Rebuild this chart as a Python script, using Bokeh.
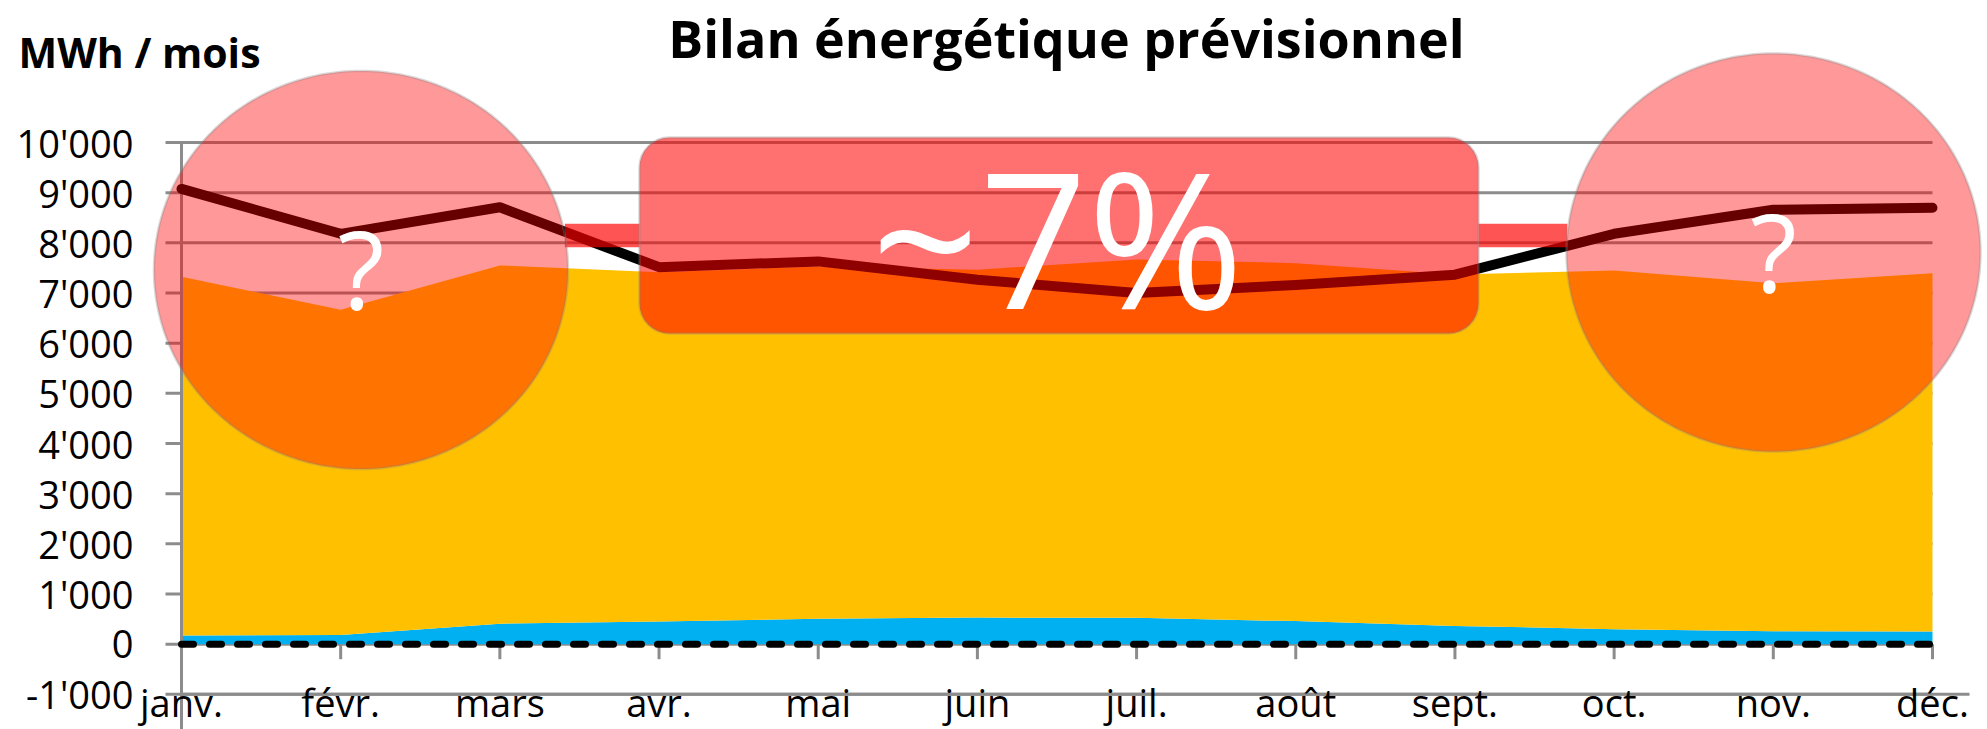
import numpy as np
from bokeh.plotting import figure
from bokeh.models import Range1d, Label, PolyAnnotation, BoxAnnotation
from bokeh.core.properties import value
from bokeh.embed import file_html
from bokeh.resources import INLINE

# ---------------- data ----------------
months = ["janv.", "févr.", "mars", "avr.", "mai", "juin",
          "juil.", "août", "sept.", "oct.", "nov.", "déc."]
serie_bleue = [175, 185, 410, 450, 505, 530, 525, 460, 365, 300, 260, 255]
serie_jaune = [7150, 6480, 7140, 6965, 7025, 6935, 7145, 7135, 7005, 7150, 6935, 7140]
consommation = [9075, 8180, 8710, 7515, 7630, 7265, 7000, 7160, 7365, 8180, 8660, 8700]
solde_zero = [0, 0, 0, 0, 0, 0, 0, 0, 0, 0, 0, 0]
niveau_rouge = 8145
y_ticks = [-1000, 0, 1000, 2000, 3000, 4000, 5000, 6000, 7000, 8000, 9000, 10000]
y_tick_labels = ["-1'000", "0", "1'000", "2'000", "3'000", "4'000", "5'000",
                 "6'000", "7'000", "8'000", "9'000", "10'000"]
titre = "Bilan énergétique prévisionnel"
unite = "MWh / mois"
texte_boite = "~7%"
texte_cercle = "?"

# ---------------- geometry / style ----------------
W, H = 1987, 729
FONT = "Open Sans"
GRAY = "#8C8C8C"
X0_PX, DX_PX = 181.0, 159.18      # page x of first category, px per category
Y0_PX, PX_U = 643.7, 0.05017      # page y of value 0, px per data unit


def xd(px):
    return (px - X0_PX) / DX_PX


def yd(py):
    return (Y0_PX - py) / PX_U


def lx(px):
    return px / DX_PX


def ly(py):
    return py / PX_U


x = list(range(len(months)))
stack_top = [b + j for b, j in zip(serie_bleue, serie_jaune)]

p = figure(width=W, height=H, output_backend="svg", toolbar_location=None,
           x_range=Range1d(xd(0), xd(W)), y_range=Range1d(yd(H), yd(0)),
           x_axis_location=None, y_axis_location=None, title=None,
           min_border=0, min_border_left=0, min_border_right=0,
           min_border_top=0, min_border_bottom=0)
p.outline_line_color = None
p.background_fill_color = "white"
p.grid.visible = False

n_t = len(y_ticks)
# horizontal grid lines (with their outside tick part)
p.segment(x0=[xd(165)] * n_t, x1=[x[-1]] * n_t, y0=y_ticks, y1=y_ticks,
          line_color=GRAY, line_width=3)
# category axis line at the bottom tick value
p.segment(x0=[x[0]], x1=[xd(1969)], y0=[y_ticks[0]], y1=[y_ticks[0]],
          line_color=GRAY, line_width=3)

# areas
p.varea(x=x, y1=solde_zero, y2=serie_bleue, fill_color="#00B0F0")
p.varea(x=x, y1=serie_bleue, y2=stack_top, fill_color="#FFC000")

# value axis line
p.segment(x0=[x[0]], x1=[x[0]], y0=[y_ticks[-1]], y1=[yd(H)],
          line_color=GRAY, line_width=3)
# value tick labels
p.text(x=[x[0] - lx(48)] * n_t, y=y_ticks, text=y_tick_labels,
       text_align="right", text_baseline="middle",
       text_font=value(FONT), text_font_size="38px", text_color="black")

# consumption line
p.line(x, consommation, line_color="black", line_width=10,
       line_cap="round", line_join="round")

# ticks on zero line
p.segment(x0=x, x1=x, y0=solde_zero, y1=[z - ly(15) for z in solde_zero],
          line_color=GRAY, line_width=3)

# dashed zero line
p.line(x, solde_zero, line_color="black", line_width=7, line_dash="12 16",
       line_cap="round")

# month labels
p.text(x=x, y=[yd(701)] * len(x), text=months, text_align="center",
       text_baseline="middle", text_font=value(FONT), text_font_size="38px",
       text_color="black")

# ---------------- overlays ----------------
rx = lx(207)
ry = ly(199)
circles = [(xd(360.5), yd(269.5)), (xd(1773), yd(252))]
box_l, box_r = xd(639), xd(1478)
box_t, box_b = yd(137), yd(333)


def circle_edge(c, yv, side):
    cx, cy = c
    d = (yv - cy) / ry
    return cx + side * rx * np.sqrt(max(0.0, 1 - d * d))


# red band between the shapes
band_x0 = [circle_edge(circles[0], niveau_rouge, +1), box_r]
band_x1 = [box_l, circle_edge(circles[1], niveau_rouge, -1)]
p.segment(x0=band_x0, x1=band_x1, y0=[niveau_rouge] * 2, y1=[niveau_rouge] * 2,
          line_color="#FF0000", line_alpha=0.67, line_width=23.5, line_cap="butt")

box = BoxAnnotation(left=box_l, right=box_r, top=box_t, bottom=box_b,
                    fill_color="#FF0000", fill_alpha=0.56,
                    line_color="#808080", line_width=2.5, border_radius=30)
p.add_layout(box)

t = np.linspace(0, 2 * np.pi, 241)
q_pos = [268, 251]
for (cx, cy), qy in zip(circles, q_pos):
    poly = PolyAnnotation(xs=list(cx + rx * np.cos(t)), ys=list(cy + ry * np.sin(t)),
                          xs_units="data", ys_units="data",
                          fill_color="#FF0000", fill_alpha=0.4,
                          line_color="#808080", line_width=2.5)
    p.add_layout(poly)
    p.add_layout(Label(x=cx, y=yd(qy), text=texte_cercle,
                       text_align="center", text_baseline="middle",
                       text_font=FONT, text_font_size="108px", text_color="white"))

p.add_layout(Label(x=xd(1057), y=yd(235), text=texte_boite,
                   text_align="center", text_baseline="middle",
                   text_font=FONT, text_font_size="189px", text_color="white"))

# titles
p.add_layout(Label(x=xd(1066), y=yd(37), text=titre,
                   text_align="center", text_baseline="middle",
                   text_font=FONT, text_font_style="bold", text_font_size="52px",
                   text_color="black"))
p.add_layout(Label(x=xd(18), y=yd(51), text=unite,
                   text_align="left", text_baseline="middle",
                   text_font=FONT, text_font_style="bold", text_font_size="41px",
                   text_color="black"))

open("out.html", "w").write(file_html(p, INLINE))
